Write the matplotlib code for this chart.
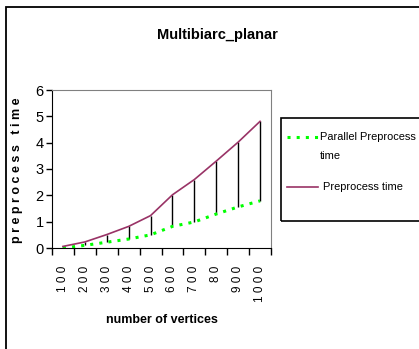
import matplotlib
matplotlib.use("Agg")
import matplotlib.pyplot as plt
from matplotlib.patches import Rectangle
from matplotlib.lines import Line2D

# data
vertices = ["100", "200", "300", "400", "500", "600", "700", "80", "900", "1000"]
preprocess = [0.06, 0.23, 0.51, 0.82, 1.23, 2.02, 2.6, 3.3, 4.02, 4.81]
parallel = [0.0, 0.1, 0.22, 0.34, 0.5, 0.82, 0.99, 1.29, 1.56, 1.79]

plt.rcParams['font.family'] = ['Liberation Sans', 'DejaVu Sans']

W, H = 419, 349
fig = plt.figure(figsize=(W / 100, H / 100), dpi=100)

def fx(px):
    return px / W

def fy(py):
    return 1 - py / H

# outer chart frame (only left/top edges fall inside the picture)
fig.add_artist(Rectangle((fx(6), fy(460)), 1, fy(7) - fy(460), transform=fig.transFigure,
                         fill=False, edgecolor='black', lw=1.3))

ax = fig.add_axes([fx(52), fy(248), fx(271) - fx(52), fy(90) - fy(248)])
x = list(range(len(vertices)))

ax.vlines(x, parallel, preprocess, color='black', lw=1)
ax.plot(x, parallel, color='#00ff00', lw=2.2, linestyle=(0, (1, 2)))
ax.plot(x, preprocess, color='#993366', lw=1.2)

ax.set_xlim(-0.5, len(vertices) - 0.5)
ax.set_ylim(0, 6)
ax.set_yticks(range(7))
ax.tick_params(axis='y', labelsize=10.5, length=4, width=1, pad=2)
ax.set_xticks(x)
ax.set_xticklabels([" ".join(v) for v in vertices], rotation=90, va='top', fontsize=8.5)
ax.tick_params(axis='x', which='major', length=0, pad=13)
ax.set_xticks([i - 0.5 for i in range(len(vertices) + 1)], minor=True)
ax.tick_params(axis='x', which='minor', length=5, width=1)

for s in ['top', 'right']:
    ax.spines[s].set_color('#808080')
for s in ['left', 'bottom']:
    ax.spines[s].set_color('black')

ax.set_ylabel("p r e p r o c e s s   t i m e", fontsize=9, fontweight='bold', va='center')
ax.yaxis.set_label_coords(-0.16, 0.49)
ax.set_xlabel("number of vertices", fontsize=9, fontweight='bold', va='center')
ax.xaxis.set_label_coords(0.5, -0.456)

fig.text(fx(217), fy(35), "Multibiarc_planar", ha='center', va='center',
         fontsize=10.5, fontweight='bold')

# legend box
fig.add_artist(Rectangle((fx(281), fy(221)), fx(430) - fx(281), fy(118) - fy(221),
                         transform=fig.transFigure, fill=False, edgecolor='black', lw=1.2))
fig.add_artist(Line2D([fx(287), fx(319)], [fy(137), fy(137)], transform=fig.transFigure,
                      color='#00ff00', lw=2.2, linestyle=(0, (1, 2))))
fig.text(fx(320), fy(137), "Parallel Preprocess", ha='left', va='center', fontsize=7.9)
fig.text(fx(320), fy(156), "time", ha='left', va='center', fontsize=7.9)
fig.add_artist(Line2D([fx(287), fx(318)], [fy(187), fy(187)], transform=fig.transFigure,
                      color='#993366', lw=1.2))
fig.text(fx(323), fy(187), "Preprocess time", ha='left', va='center', fontsize=7.9)

fig.savefig("out.png", dpi=100)
